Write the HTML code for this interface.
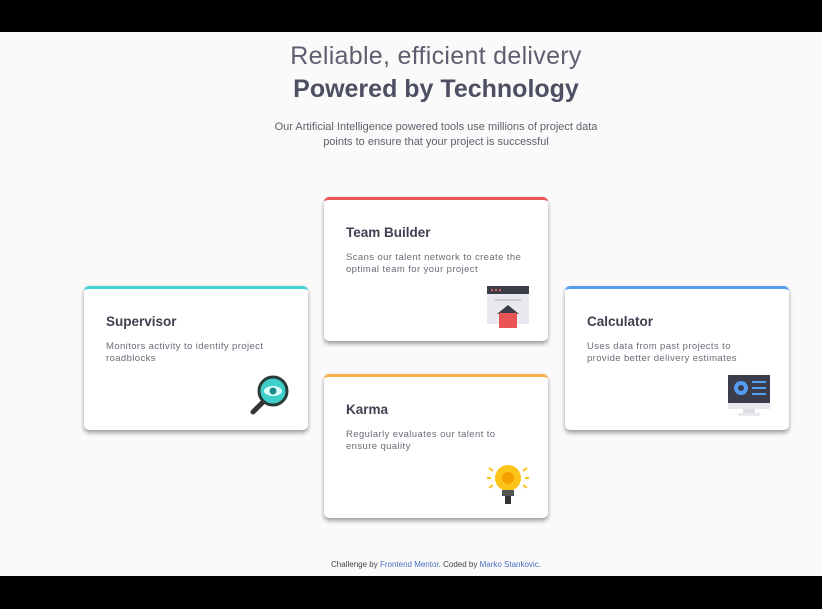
<!DOCTYPE html>
<html><head><meta charset="utf-8"><style>
*{margin:0;padding:0;box-sizing:border-box}
body{width:822px;height:609px;background:#000;font-family:"Liberation Sans",sans-serif;position:relative;overflow:hidden}
.page{position:absolute;left:0;top:32px;width:822px;height:544px;background:#fafafa}
.t1{position:absolute;left:0;width:872px;text-align:center;top:10px;font-size:25px;font-weight:300;color:#5d5f70;letter-spacing:0.3px}
.t2{position:absolute;left:0;width:872px;text-align:center;top:43px;font-size:25px;font-weight:bold;color:#4d4f62}
.p{position:absolute;left:0;width:872px;text-align:center;top:88px;font-size:11px;line-height:15px;color:#60616e}
.card{position:absolute;width:224px;height:144px;background:#fff;border-radius:5px;border-top:3px solid;box-shadow:0 3px 4px rgba(0,0,0,.35),0 0 3px rgba(0,0,0,.06)}
.card h3{position:absolute;left:22px;top:25px;font-size:13.5px;color:#3e4050;font-weight:bold}
.card p{position:absolute;left:22px;top:52px;width:181px;font-size:9.5px;line-height:12px;color:#6a6b78;letter-spacing:.4px}
.card svg{position:absolute;right:19px;bottom:13px}
.foot{position:absolute;left:0;width:872px;text-align:center;top:528px;font-size:8px;color:#444}
.foot span{color:#4a6fc0}
</style></head><body>
<div class="page">
<div class="t1">Reliable, efficient delivery</div>
<div class="t2">Powered by Technology</div>
<div class="p">Our Artificial Intelligence powered tools use millions of project data<br>points to ensure that your project is successful</div>
<div class="foot">Challenge by <span>Frontend Mentor</span>. Coded by <span>Marko Stankovic</span>.</div>
</div>
<div class="card" style="left:84px;top:286px;border-color:#44d3d2">
<h3>Supervisor</h3><p>Monitors activity to identify project<br>roadblocks</p>
<svg width="42" height="42" viewBox="0 0 42 42"><line x1="6" y1="37" x2="17" y2="26" stroke="#333" stroke-width="5" stroke-linecap="round"/><circle cx="26" cy="16" r="14" fill="#3fcfc9" stroke="#2a3b3b" stroke-width="3"/><ellipse cx="26" cy="16" rx="9" ry="5" fill="#dff"/><circle cx="26" cy="16" r="3.5" fill="#1a8a88"/></svg>
</div>
<div class="card" style="left:324px;top:197px;border-color:#ea5454">
<h3>Team Builder</h3><p>Scans our talent network to create the<br>optimal team for your project</p>
<svg width="42" height="42" viewBox="0 0 42 42"><rect x="0" y="0" width="42" height="38" fill="#e8e8ee"/><rect x="0" y="0" width="42" height="8" fill="#3b3d4a"/><rect x="4" y="3" width="2" height="2" fill="#ea5454"/><rect x="8" y="3" width="2" height="2" fill="#ea5454"/><rect x="12" y="3" width="2" height="2" fill="#ea5454"/><rect x="8" y="13" width="26" height="2" fill="#ccc"/><polygon points="10,28 21,19 32,28" fill="#3b3d4a"/><rect x="12" y="27" width="18" height="15" fill="#ea5454"/></svg>
</div>
<div class="card" style="left:324px;top:374px;border-color:#fcaf4a">
<h3>Karma</h3><p>Regularly evaluates our talent to<br>ensure quality</p>
<svg width="42" height="42" viewBox="0 0 42 42"><circle cx="21" cy="15" r="13" fill="#fcc419"/><circle cx="21" cy="15" r="6" fill="#f59f00"/><rect x="15" y="27" width="12" height="6" fill="#555"/><rect x="18" y="33" width="6" height="8" fill="#333"/><g stroke="#fcc419" stroke-width="2"><line x1="0" y1="15" x2="4" y2="15"/><line x1="38" y1="15" x2="42" y2="15"/><line x1="2" y1="5" x2="6" y2="8"/><line x1="40" y1="5" x2="36" y2="8"/><line x1="2" y1="25" x2="6" y2="22"/><line x1="40" y1="25" x2="36" y2="22"/></g></svg>
</div>
<div class="card" style="left:565px;top:286px;border-color:#549ef2">
<h3>Calculator</h3><p>Uses data from past projects to<br>provide better delivery estimates</p>
<svg width="42" height="42" viewBox="0 0 42 42"><rect x="0" y="0" width="42" height="30" fill="#3b3d4a"/><rect x="0" y="28" width="42" height="6" fill="#e8e8ee"/><rect x="15" y="34" width="12" height="4" fill="#ddd"/><rect x="10" y="38" width="22" height="3" fill="#e8e8ee"/><circle cx="13" cy="13" r="7" fill="#549ef2"/><circle cx="13" cy="13" r="3" fill="#3b3d4a"/><g fill="#549ef2"><rect x="24" y="6" width="14" height="2"/><rect x="24" y="12" width="14" height="2"/><rect x="24" y="18" width="14" height="2"/></g></svg>
</div>
</body></html>
